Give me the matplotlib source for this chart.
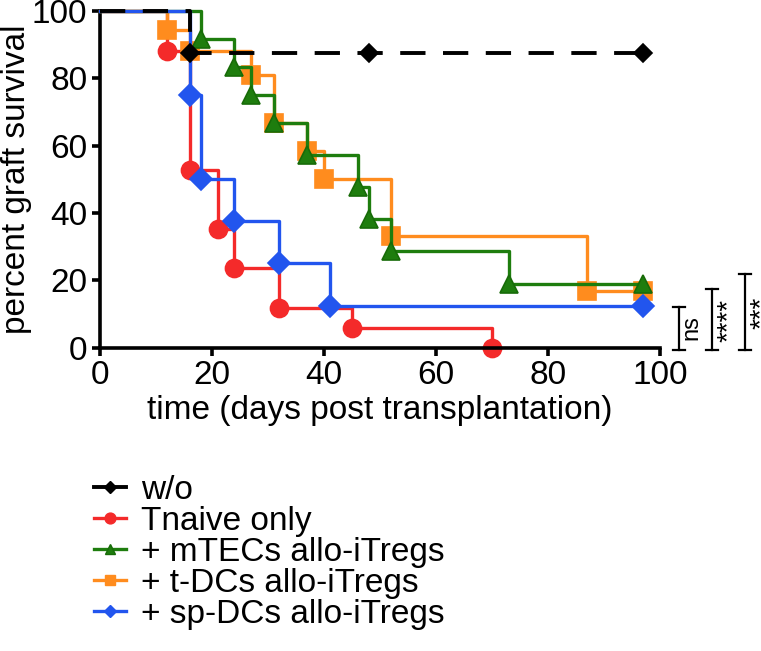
import matplotlib
matplotlib.use("Agg")
import matplotlib.pyplot as plt

plt.rcParams['font.family'] = ['Liberation Sans', 'DejaVu Sans']

# survival curves (time in days, percent surviving), step points
wo_t = [0, 16, 48, 97]
wo_s = [100, 87.5, 87.5, 87.5]
tn_t = [0, 12, 16, 21, 24, 32, 45, 70]
tn_s = [100, 88.2, 52.9, 35.3, 23.5, 11.8, 5.9, 0]
mt_t = [0, 18, 24, 27, 31, 37, 46, 48, 52, 73, 97]
mt_s = [100, 91.7, 83.3, 75, 66.7, 57.1, 47.6, 38.1, 28.6, 19.0, 19.0]
td_t = [0, 12, 16, 27, 31, 37, 40, 52, 87, 97]
td_s = [100, 94.4, 88.2, 80.9, 66.7, 58.3, 50, 33.3, 16.7, 16.7]
sp_t = [0, 16, 18, 24, 32, 41, 97]
sp_s = [100, 75, 50, 37.5, 25, 12.5, 12.5]

labels = ['w/o', 'Tnaive only', '+ mTECs allo-iTregs', '+ t-DCs allo-iTregs', '+ sp-DCs allo-iTregs']

# significance brackets: x, top y, text, text centre y
sig_x = [103.4, 109.3, 115.2]
sig_top = [12.0, 17.4, 21.8]
sig_txt = ['ns', '****', '***']
sig_ty = [6.1, 8.0, 10.4]

fig = plt.figure(figsize=(7.61, 6.51), dpi=100)
ax = fig.add_axes([100/761, 1-347.6/651, 560/761, 336.6/651])

red = '#f42a2a'
blue = '#2255ee'
green = '#1e7d0e'
orange = '#ff8c1e'

def km(t, s, color, marker, ms, mec=None, lw=2.4, dashes=None, z=2):
    line, = ax.step(t, s, where='post', color=color, lw=lw, zorder=z, clip_on=False)
    if dashes:
        line.set_dashes(dashes)
    ax.plot(t[1:], s[1:], ls='none', marker=marker, ms=ms, color=color,
            mec=mec or color, mew=1.2, zorder=z, clip_on=False)
    # legend handle
    h, = ax.plot([], [], color=color, lw=lw, marker=marker, ms=ms*0.6, mec=mec or color)
    return h

h1 = km(tn_t, tn_s, red, 'o', 13, z=2)
h3 = km(td_t, td_s, orange, 's', 12.5, z=3)
h2 = km(mt_t, mt_s, green, '^', 13, mec='#176b08', z=4)
h4 = km(sp_t, sp_s, blue, 'D', 11, z=5)
h0 = km(wo_t, wo_s, 'black', 'D', 9.5, lw=2.8, dashes=[6.5, 4.5], z=6)

ax.set_xlim(0, 100)
ax.set_ylim(0, 100)
ax.set_xticks([0, 20, 40, 60, 80, 100])
ax.set_yticks([0, 20, 40, 60, 80, 100])
for sp in ['top', 'right']:
    ax.spines[sp].set_visible(False)
for sp in ['left', 'bottom']:
    ax.spines[sp].set_linewidth(2.6)
ax.tick_params(width=2.6, length=6, labelsize=24, pad=3)
ax.set_xlabel('time (days post transplantation)', fontsize=24, labelpad=3)
ax.set_ylabel('percent graft survival', fontsize=24, labelpad=0)

for x, top, txt, ty in zip(sig_x, sig_top, sig_txt, sig_ty):
    ax.plot([x, x], [-0.7, top], color='black', lw=1.6, clip_on=False)
    ax.plot([x-1.1, x+1.1], [top, top], color='black', lw=1.6, clip_on=False)
    ax.plot([x-1.1, x+1.1], [-0.7, -0.7], color='black', lw=1.6, clip_on=False)
    if txt == 'ns':
        ax.text(x+2.2, ty, txt, rotation=90, fontsize=17, ha='center', va='center')
    else:
        ax.text(x+3.0, ty, txt, rotation=90, fontsize=20, ha='center', va='center')

fig.legend([h0, h1, h2, h3, h4], labels, loc='upper left', bbox_to_anchor=(94/761, 1-475/651),
           frameon=False, fontsize=24, handlelength=0.95, handletextpad=0.45,
           labelspacing=0.0, borderaxespad=0, borderpad=0)

fig.savefig('out.png', dpi=100)
